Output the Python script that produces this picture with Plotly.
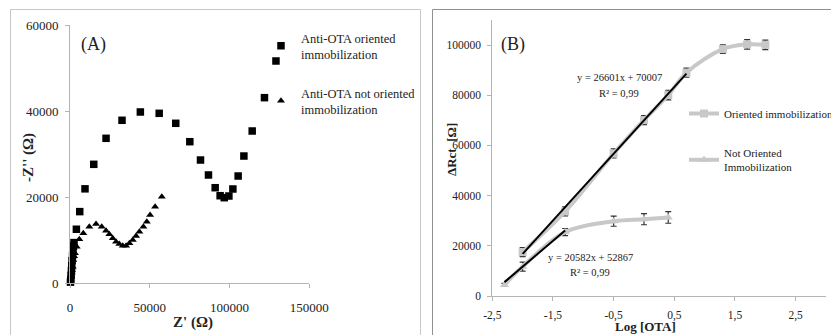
import plotly.graph_objects as go

W, H = 831, 335
SERIF = "Liberation Serif, Times New Roman, serif"

# ---- Panel A: Nyquist plot (Z', -Z'') ----
oriented_zre = [300, 500, 700, 900, 1100, 1300, 1600, 1900, 2200, 2500, 4000, 6100, 9400,
                14900, 22600, 32600, 44100, 55900, 66300, 75100, 81800, 86800, 91000,
                94100, 96700, 99600, 102100, 105400, 109000, 114200, 121900, 129100]
oriented_zim = [200, 900, 1800, 2900, 4000, 5200, 6400, 7600, 8600, 9400, 12500, 16600, 21900,
                27600, 33650, 37840, 39770, 39460, 37140, 32860, 28600, 25120, 22160,
                20300, 19840, 20230, 21860, 24880, 29530, 35350, 43100, 51630]

not_oriented_zre = [200, 400, 700, 1000, 1300, 1700, 2100, 2600, 3100, 4200, 5840, 8350, 12110,
                    16320, 19900, 22590, 24660, 26800, 28870, 30940, 33070, 35150, 37220,
                    39350, 41420, 43490, 46000, 48140, 50200, 53350, 57550]
not_oriented_zim = [300, 800, 1500, 2300, 3000, 3800, 5350, 6200, 6900, 8440, 10160, 11560, 13100,
                    13720, 13100, 12170, 11330, 10400, 9610, 9070, 8680, 8680, 9230,
                    10000, 10930, 11930, 13100, 14260, 15820, 17750, 20070]

# ---- Panel B: calibration (ΔRct vs log[OTA]) ----
log_ota_or = [-2.0, -1.3, -0.5, 0.0, 0.4, 0.7, 1.3, 1.7, 2.0]
rct_or = [17500, 33700, 56800, 70100, 80100, 89000, 98400, 100300, 100100]
err_or = [1800, 1800, 1800, 1800, 1900, 1800, 1700, 1900, 1900]

log_ota_nor = [-2.3, -2.0, -1.3, -0.5, 0.0, 0.4]
rct_nor = [4400, 11700, 25500, 29800, 30600, 31300]
err_nor = [600, 1800, 1400, 2000, 2200, 2300]

# linear fits: (slope, intercept, x-start, x-end)
fit_or = (26601, 70007, -2.0, 0.7)
fit_nor = (20582, 52867, -2.3, -1.3)

xticks_b = [-2.5, -1.5, -0.5, 0.5, 1.5, 2.5]
xticktext_b = ["-2,5", "-1,5", "-0,5", "0,5", "1,5", "2,5"]


def px_x(p):
    return p / W


def px_y(p):
    return 1 - p / H


fig = go.Figure()

fig.add_trace(go.Scatter(
    x=oriented_zre, y=oriented_zim, mode="markers", xaxis="x", yaxis="y",
    marker=dict(symbol="square", size=7.5, color="black"),
    name="Anti-OTA oriented<br>immobilization", legend="legend", cliponaxis=False))
fig.add_trace(go.Scatter(
    x=not_oriented_zre, y=not_oriented_zim, mode="markers", xaxis="x", yaxis="y",
    marker=dict(symbol="triangle-up", size=7, color="black"),
    name="Anti-OTA not oriented<br>immobilization", legend="legend2", cliponaxis=False))

GRAY = "#c8c8c8"
fig.add_trace(go.Scatter(
    x=log_ota_or, y=rct_or, mode="lines+markers", xaxis="x2", yaxis="y2",
    line=dict(color=GRAY, width=4, shape="spline", smoothing=1),
    marker=dict(symbol="square", size=8, color=GRAY),
    error_y=dict(type="data", array=err_or, color="#333333", thickness=1.2, width=3),
    name="Oriented immobilization", legend="legend3", cliponaxis=False))
fig.add_trace(go.Scatter(
    x=log_ota_nor, y=rct_nor, mode="lines+markers", xaxis="x2", yaxis="y2",
    line=dict(color=GRAY, width=4, shape="spline", smoothing=1),
    marker=dict(symbol="triangle-up", size=8, color=GRAY),
    error_y=dict(type="data", array=err_nor, color="#333333", thickness=1.2, width=3),
    name="Not Oriented<br>Immobilization", legend="legend4", cliponaxis=False))

for slope, icpt, x0, x1 in (fit_or, fit_nor):
    fig.add_trace(go.Scatter(
        x=[x0, x1], y=[slope * x0 + icpt, slope * x1 + icpt], mode="lines",
        xaxis="x2", yaxis="y2", line=dict(color="black", width=2),
        showlegend=False, hoverinfo="skip"))

axis_common = dict(
    showline=True, linecolor="#b4b4b4", linewidth=1, showgrid=False, zeroline=False,
    ticks="outside", ticklen=4, tickcolor="#b4b4b4",
    tickfont=dict(family=SERIF, size=13, color="#222222"))
small_ticks = {**axis_common, "tickfont": dict(family=SERIF, size=11.5, color="#222222")}

fig.update_layout(
    width=W, height=H, margin=dict(l=0, r=0, t=0, b=0, autoexpand=False),
    paper_bgcolor="white", plot_bgcolor="white",
    font=dict(family=SERIF, color="#222222"),
    xaxis=dict(domain=[px_x(70), px_x(309.3)], range=[0, 150000], anchor="y",
               tickvals=[0, 50000, 100000, 150000], tickformat="d",
               ticklabelstandoff=8, **axis_common),
    yaxis=dict(domain=[px_y(283), px_y(25)], range=[0, 60000], anchor="x",
               tickvals=[0, 20000, 40000, 60000], tickformat="d",
               ticklabelstandoff=4, **axis_common),
    xaxis2=dict(domain=[px_x(492.3), px_x(826)], range=[-2.5, 3.0], anchor="y2",
                tickvals=xticks_b, ticktext=xticktext_b, ticklabelstandoff=4, **small_ticks),
    yaxis2=dict(domain=[px_y(296), px_y(20)], range=[0, 110000], anchor="x2",
                tickvals=[0, 20000, 40000, 60000, 80000, 100000], tickformat="d",
                ticklabelstandoff=4, **small_ticks),
    showlegend=True,
)

legend_common = dict(bgcolor="rgba(0,0,0,0)", borderwidth=0, xanchor="left", yanchor="top",
                     itemwidth=30, itemclick=False, itemdoubleclick=False)
fig.update_layout(
    legend=dict(x=px_x(261), y=px_y(23), font=dict(family=SERIF, size=12.5, color="#222222"),
                **legend_common),
    legend2=dict(x=px_x(261), y=px_y(78), font=dict(family=SERIF, size=12.5, color="#222222"),
                 **legend_common),
    legend3=dict(x=px_x(684), y=px_y(99), font=dict(family=SERIF, size=11, color="#222222"),
                 **legend_common),
    legend4=dict(x=px_x(684), y=px_y(139), font=dict(family=SERIF, size=11, color="#222222"),
                 **legend_common),
)

annotations = [
    dict(text="(A)", x=px_x(93), y=px_y(45), font=dict(size=18)),
    dict(text="(B)", x=px_x(513), y=px_y(45), font=dict(size=18)),
    dict(text="<b>Z' (Ω)</b>", x=px_x(193), y=px_y(322), font=dict(size=15)),
    dict(text="<b>-Z'' (Ω)</b>", x=px_x(28), y=px_y(157), font=dict(size=15), textangle=-90),
    dict(text="<b>ΔRct  [Ω]</b>", x=px_x(451), y=px_y(150), font=dict(size=13), textangle=-90),
    dict(text="<b>Log [OTA]</b>", x=px_x(645), y=px_y(326), font=dict(size=13)),
    dict(text="y = 26601x + 70007", x=px_x(619), y=px_y(77), font=dict(size=10.5)),
    dict(text="R² = 0,99", x=px_x(619), y=px_y(93), font=dict(size=10.5)),
    dict(text="y = 20582x + 52867", x=px_x(590), y=px_y(257), font=dict(size=10.5)),
    dict(text="R² = 0,99", x=px_x(590), y=px_y(272), font=dict(size=10.5)),
]
for a in annotations:
    a.update(xref="paper", yref="paper", showarrow=False, xanchor="center", yanchor="middle")
    a["font"] = dict(family=SERIF, color="#222222", **a["font"])
fig.update_layout(annotations=annotations)

# panel frames
fig.update_layout(shapes=[
    dict(type="rect", xref="paper", yref="paper", x0=px_x(10.5), x1=px_x(420.5),
         y0=px_y(345), y1=px_y(9.5), line=dict(color="#c8c8c8", width=1)),
    dict(type="rect", xref="paper", yref="paper", x0=px_x(432.5), x1=px_x(845),
         y0=px_y(345), y1=px_y(9.5), line=dict(color="#909090", width=1)),
])

fig.write_html("out.html")
